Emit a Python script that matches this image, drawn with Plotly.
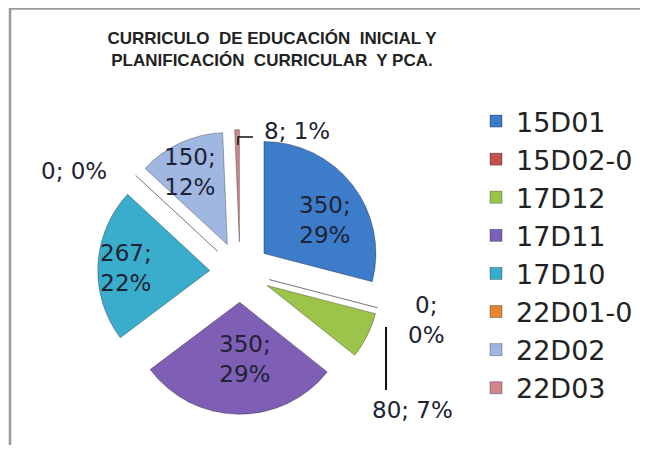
import plotly.graph_objects as go

# data
codigos = ['15D01', '15D02-0', '17D12', '17D11', '17D10', '22D01-0', '22D02', '22D03']
valores = [350, 0, 80, 350, 267, 0, 150, 8]
colores = ['#3d7cc9', '#c0504d', '#9cc44a', '#7f5fb5', '#3badcc', '#e6862e', '#a0b7e2', '#d0868a']

total = sum(valores)
def pct(v):
    return round(100.0 * v / total)

W, H = 632, 437   # page body has an 8px margin, so the figure sits at (8, 8)
def px(x):   # screen pixel -> paper x
    return (x - 8) / W
def py(y):   # screen pixel -> paper y
    return 1 - (y - 8) / H

fig = go.Figure()
fig.add_trace(go.Pie(
    labels=codigos, values=valores, sort=False, direction='clockwise', rotation=0,
    marker=dict(colors=colores, line=dict(color='rgba(0,0,0,0.3)', width=1)),
    pull=[0.27] * len(valores), textinfo='none',
    domain=dict(x=[89.75 / W, 374.25 / W], y=[30.75 / H, 315.25 / H]),
    hoverinfo='skip'))

# data labels (value; percent), placed like the original
lab_pos = {
    '15D01': (325, 220, '<br>'),
    '17D11': (245, 359, '<br>'),
    '17D10': (126, 268, '<br>'),
    '22D02': (190, 172, '<br>'),
    '22D03': (297, 131, ' '),
    '22D01-0': (74, 171, ' '),
    '15D02-0': (426, 320, '<br>'),
    '17D12': (412, 410, ' '),
}
for c, v in zip(codigos, valores):
    x, y, sep = lab_pos[c]
    fig.add_annotation(x=px(x), y=py(y), text='%d;%s%d%%' % (v, sep, pct(v)))
fig.update_annotations(xref='paper', yref='paper', showarrow=False, xanchor='center', yanchor='middle',
                       font=dict(family='DejaVu Sans', size=23, color='#1e2233'))

# leader lines
fig.add_shape(type='line', xref='paper', yref='paper', x0=px(386), x1=px(386), y0=py(390), y1=py(327),
              line=dict(color='#111111', width=2))
fig.add_shape(type='path', xref='paper', yref='paper',
              path='M %f,%f L %f,%f L %f,%f' % (px(238), py(145), px(238), py(137), px(253), py(137)),
              line=dict(color='#111111', width=1.5))
# chart frame
fig.add_shape(type='rect', xref='paper', yref='paper', x0=px(10), x1=1.05, y0=-0.02, y1=py(8.5),
              line=dict(color='#9a9a9a', width=2.5))

fig.update_layout(
    width=W, height=H, margin=dict(l=0, r=0, t=0, b=0),
    paper_bgcolor='white',
    title=dict(text='<b>CURRICULO  DE EDUCACIÓN  INICIAL Y<br>PLANIFICACIÓN  CURRICULAR  Y PCA.</b>',
               x=px(272), xanchor='center', y=py(43.5), yanchor='middle',
               font=dict(family='Liberation Sans', size=17, color='#222222')),
    legend=dict(x=px(476), y=py(97), xanchor='left', yanchor='top', bgcolor='rgba(0,0,0,0)',
                font=dict(family='DejaVu Sans', size=27, color='#222222')),
)

fig.write_html('out.html')
